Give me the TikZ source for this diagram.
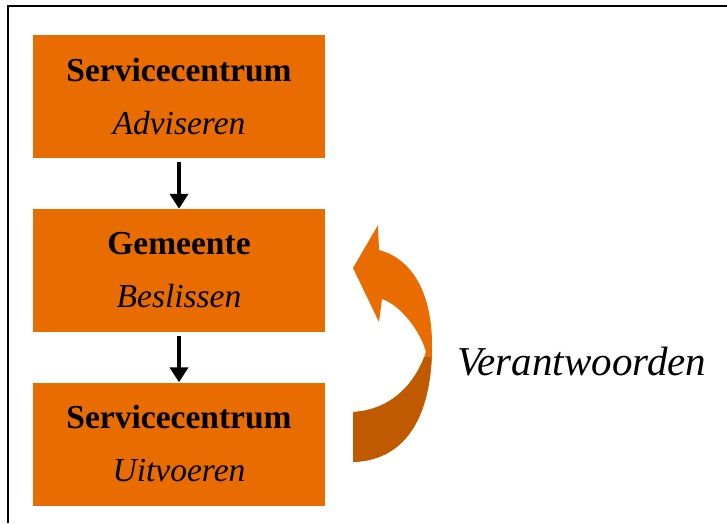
\documentclass[tikz,border=0pt]{standalone}
\usepackage{fontspec}
\setmainfont{Liberation Serif}
\usetikzlibrary{arrows.meta}
\definecolor{boxorange}{RGB}{233,108,0}
\definecolor{darkorange}{RGB}{192,90,0}
\tikzset{
  orgbox/.style={fill=boxorange, draw=none, minimum width=292pt, minimum height=123pt,
    inner sep=0pt, align=center, font=\fontsize{33.5}{53}\selectfont},
  flowarrow/.style={line width=4.5pt, -{Triangle[width=18pt,length=15pt]}, shorten <=4pt},
  frameline/.style={line width=2pt}
}
\begin{document}
\begin{tikzpicture}[x=1pt,y=-1pt]
\useasboundingbox (0,0) rectangle (727,523);
\draw[frameline] (7.5,523) -- (7.5,6) -- (727,6);
\node[orgbox] (b1) at (179,96.5) {\textbf{Servicecentrum}\\\textit{Adviseren}};
\node[orgbox] (b2) at (179,270.5) {\textbf{Gemeente}\\\textit{Beslissen}};
\node[orgbox] (b3) at (179,444) {\textbf{Servicecentrum}\\\textit{Uitvoeren}};
\draw[flowarrow] (b1.south) -- (b2.north);
\draw[flowarrow] (b2.south) -- (b3.north);
% curved arrow
\def\curvedarrow{(378,225) -- (353,268) -- (379,322) -- (382,299)
  .. controls (400,305) and (420,330) .. (426,352)
  .. controls (415,385) and (390,410) .. (353,412)
  -- (353,462)
  .. controls (410,460) and (432,410) .. (432,345)
  .. controls (432,290) and (410,258) .. (379,250) -- cycle}
\fill[boxorange] \curvedarrow;
\begin{scope}
  \clip (340,357) rectangle (440,470);
  \fill[darkorange] \curvedarrow;
\end{scope}
\node[anchor=base west, font=\fontsize{41}{48}\selectfont\itshape, inner sep=0pt] (verant) at (457,375) {Verantwoorden};
\end{tikzpicture}
\end{document}
